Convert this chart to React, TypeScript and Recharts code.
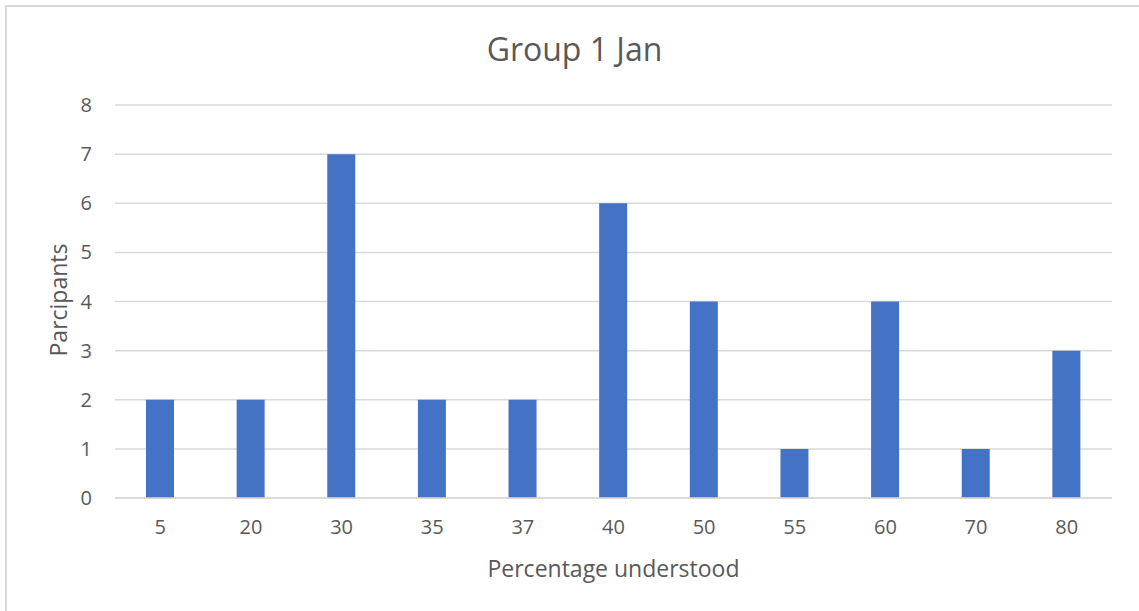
import React from 'react';
import { BarChart, Bar, XAxis, YAxis, CartesianGrid } from 'recharts';

const categories = ['5', '20', '30', '35', '37', '40', '50', '55', '60', '70', '80'];
const participants = [2, 2, 7, 2, 2, 6, 4, 1, 4, 1, 3];
const yTicks = [0, 1, 2, 3, 4, 5, 6, 7, 8];

const data = categories.map((c, i) => ({ pct: c, count: participants[i] }));

const FONT = '"Open Sans", Lato, sans-serif';
const TEXT = '#595959';
const GRID = '#d9d9d9';

const App: React.FC = () => {
  return (
    <div style={{ position: 'absolute', left: 0, top: 0, width: 1139, height: 611, background: '#fff', fontFamily: FONT }}>
      {/* chart frame */}
      <div style={{ position: 'absolute', left: 5, top: 5, width: 1140, height: 610, border: `2px solid ${GRID}`, boxSizing: 'border-box' }} />
      <BarChart
        width={1139}
        height={611}
        data={data}
        margin={{ top: 105, right: 27, left: 0, bottom: 53 }}
        barCategoryGap={0}
      >
        <CartesianGrid vertical={false} stroke={GRID} strokeWidth={1.5} />
        <XAxis
          dataKey="pct"
          height={60}
          tickLine={false}
          axisLine={{ stroke: GRID, strokeWidth: 1.5 }}
          tick={{ fill: TEXT, fontSize: 20, fontFamily: FONT }}
          tickMargin={16}
        />
        <YAxis
          width={115}
          domain={[0, 8]}
          ticks={yTicks}
          interval={0}
          tickLine={false}
          axisLine={false}
          tick={{ fill: TEXT, fontSize: 20, fontFamily: FONT }}
          tickMargin={17}
        />
        <Bar dataKey="count" fill="#4472C4" barSize={28} isAnimationActive={false} />
      </BarChart>
      <div style={{ position: 'absolute', left: 0, width: 1139, top: 29, textAlign: 'center', fontSize: 32, color: TEXT, lineHeight: '40px', paddingLeft: 10, boxSizing: 'border-box' }}>
        Group 1 Jan
      </div>
      <div style={{ position: 'absolute', left: 115, width: 997, top: 553, textAlign: 'center', fontSize: 23, color: TEXT, lineHeight: '30px' }}>
        Percentage understood
      </div>
      <div style={{ position: 'absolute', left: 58, top: 300, transform: 'translate(-50%, -50%) rotate(-90deg)', fontSize: 23, color: TEXT, lineHeight: '30px', whiteSpace: 'nowrap' }}>
        Parcipants
      </div>
    </div>
  );
};

export default App;
